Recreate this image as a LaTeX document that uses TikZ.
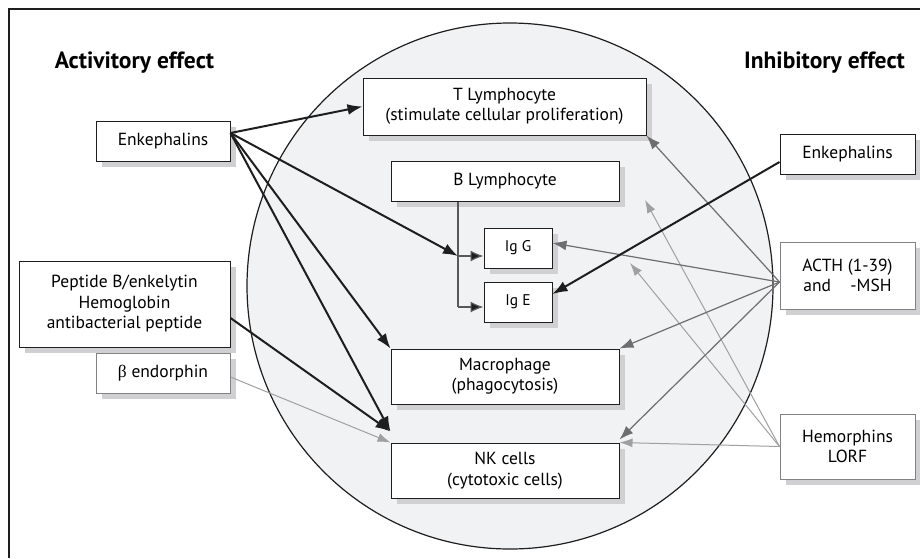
\documentclass[tikz,border=0pt]{standalone}
\usepackage{fontspec}
\setmainfont{PT Sans}
\newfontfamily\greekfont{Liberation Serif}
\usetikzlibrary{arrows.meta,shadows}
\definecolor{circfill}{RGB}{241,242,244}
\definecolor{shadowgray}{RGB}{208,208,210}
\definecolor{darkline}{RGB}{30,30,30}
\definecolor{midgray}{RGB}{110,110,112}
\definecolor{lightgray}{RGB}{160,160,162}
\definecolor{boxgray}{RGB}{130,130,132}
\begin{document}
\begin{tikzpicture}[x=1pt,y=-1pt,
  box/.style={draw=darkline,line width=1pt,fill=white,align=center,inner sep=0pt,
    font=\fontsize{17.5}{20.5}\selectfont,
    drop shadow={shadow xshift=6pt,shadow yshift=-6pt,fill=shadowgray,opacity=1}},
  gbox/.style={box,draw=boxgray},
  smallbox/.style={box,font=\fontsize{15.5}{18}\selectfont},
  head/.style={font=\fontsize{23.5}{26}\selectfont\bfseries,inner sep=0pt},
  blk/.style={draw=darkline,line width=2pt,-{Latex[length=15pt,width=11pt]}},
  mid/.style={draw=midgray,line width=1.2pt,-{Latex[length=14pt,width=10pt]}},
  lgt/.style={draw=lightgray,line width=1pt,-{Latex[length=13pt,width=9pt]}},
  bline/.style={draw=midgray!80!black,line width=1.2pt},
  barrow/.style={bline,-{Latex[length=13pt,width=11pt,fill=darkline]}}
]
\useasboundingbox (0,0) rectangle (920,558);
% frame
\draw[line width=1.2pt,darkline] (920,9) -- (9,9) -- (9,558);
% circle
\draw[line width=1.2pt,darkline,fill=circfill] (510,286) circle[radius=263pt];
% headings
\node[head] (acth-head) at (134.5,63) {Activitory effect};
\node[head] (inh-head) at (824.5,63) {Inhibitory effect};
% centre boxes
\node[box,minimum width=283pt,minimum height=57pt] (tl) at (504.5,106.5) {T Lymphocyte\\(stimulate cellular proliferation)};
\node[box,minimum width=228pt,minimum height=40pt] (bl) at (505,181) {B Lymphocyte};
\node[smallbox,minimum width=68pt,minimum height=40pt] (igg) at (518,248) {Ig G};
\node[smallbox,minimum width=68pt,minimum height=40pt] (ige) at (518,302) {Ig E};
\node[box,minimum width=228pt,minimum height=55pt] (mac) at (505,376.5) {Macrophage\\(phagocytosis)};
\node[box,minimum width=228pt,minimum height=55pt] (nk) at (505,470.5) {NK cells\\(cytotoxic cells)};
% left boxes
\node[box,minimum width=134pt,minimum height=40pt] (enkL) at (163,141) {Enkephalins};
\node[box,minimum width=211pt,minimum height=86pt] (pep) at (124.5,304) {Peptide B/enkelytin\\Hemoglobin\\antibacterial peptide};
\node[gbox,minimum width=134pt,minimum height=40pt] (beta) at (163,373) {{\greekfont β} endorphin};
% right boxes
\node[box,minimum width=135pt,minimum height=40pt] (enkR) at (847.5,154) {Enkephalins};
\node[gbox,minimum width=135pt,minimum height=67pt] (acth) at (847.5,275.5) {ACTH (1-39)\\and\hspace{1.1em}-MSH};
\node[gbox,minimum width=135pt,minimum height=65pt] (hem) at (847.5,446.5) {Hemorphins\\LORF};
% coordinates
\coordinate (j) at (458,256);
\coordinate (k) at (458,307);
\coordinate (h1) at (645,200);
\coordinate (h2) at (630,263);
% B lymphocyte connectors
\draw[bline] (bl.south -| j) -- (k);
\draw[barrow] (j) -- (j -| igg.west);
\draw[barrow] (k) -- (k -| ige.west);
% hemorphins (light gray)
\draw[lgt] (hem.west) -- (h1);
\draw[lgt] (hem.west) -- (h2);
\draw[lgt] (hem.west) -- (nk.north east);
% ACTH (mid gray)
\draw[mid] ([yshift=-6.5pt]acth.west) -- (tl.south east);
\draw[mid] ([yshift=-6.5pt]acth.west) -- ([yshift=5pt]igg.east);
\draw[mid] ([yshift=-6.5pt]acth.west) -- (mac.north east);
\draw[mid] ([yshift=-6.5pt]acth.west) -- ([yshift=3pt]nk.north east);
% beta endorphin
\draw[lgt] ([yshift=-4pt]beta.east) -- (nk.north west);
% black arrows
\draw[blk] ([yshift=8pt]enkL.east) -- (tl.west);
\draw[blk] ([yshift=8pt]enkL.east) -- (j);
\draw[blk] ([yshift=8pt]enkL.east) -- (mac.north west);
\draw[blk] ([yshift=8pt]enkL.east) -- ([yshift=11pt]nk.north west);
\draw[blk] ([yshift=-14pt]pep.east) -- ([yshift=11pt]nk.north west);
\draw[blk] ([yshift=-8pt]enkR.west) -- ([yshift=8pt]ige.east);
\end{tikzpicture}
\end{document}
